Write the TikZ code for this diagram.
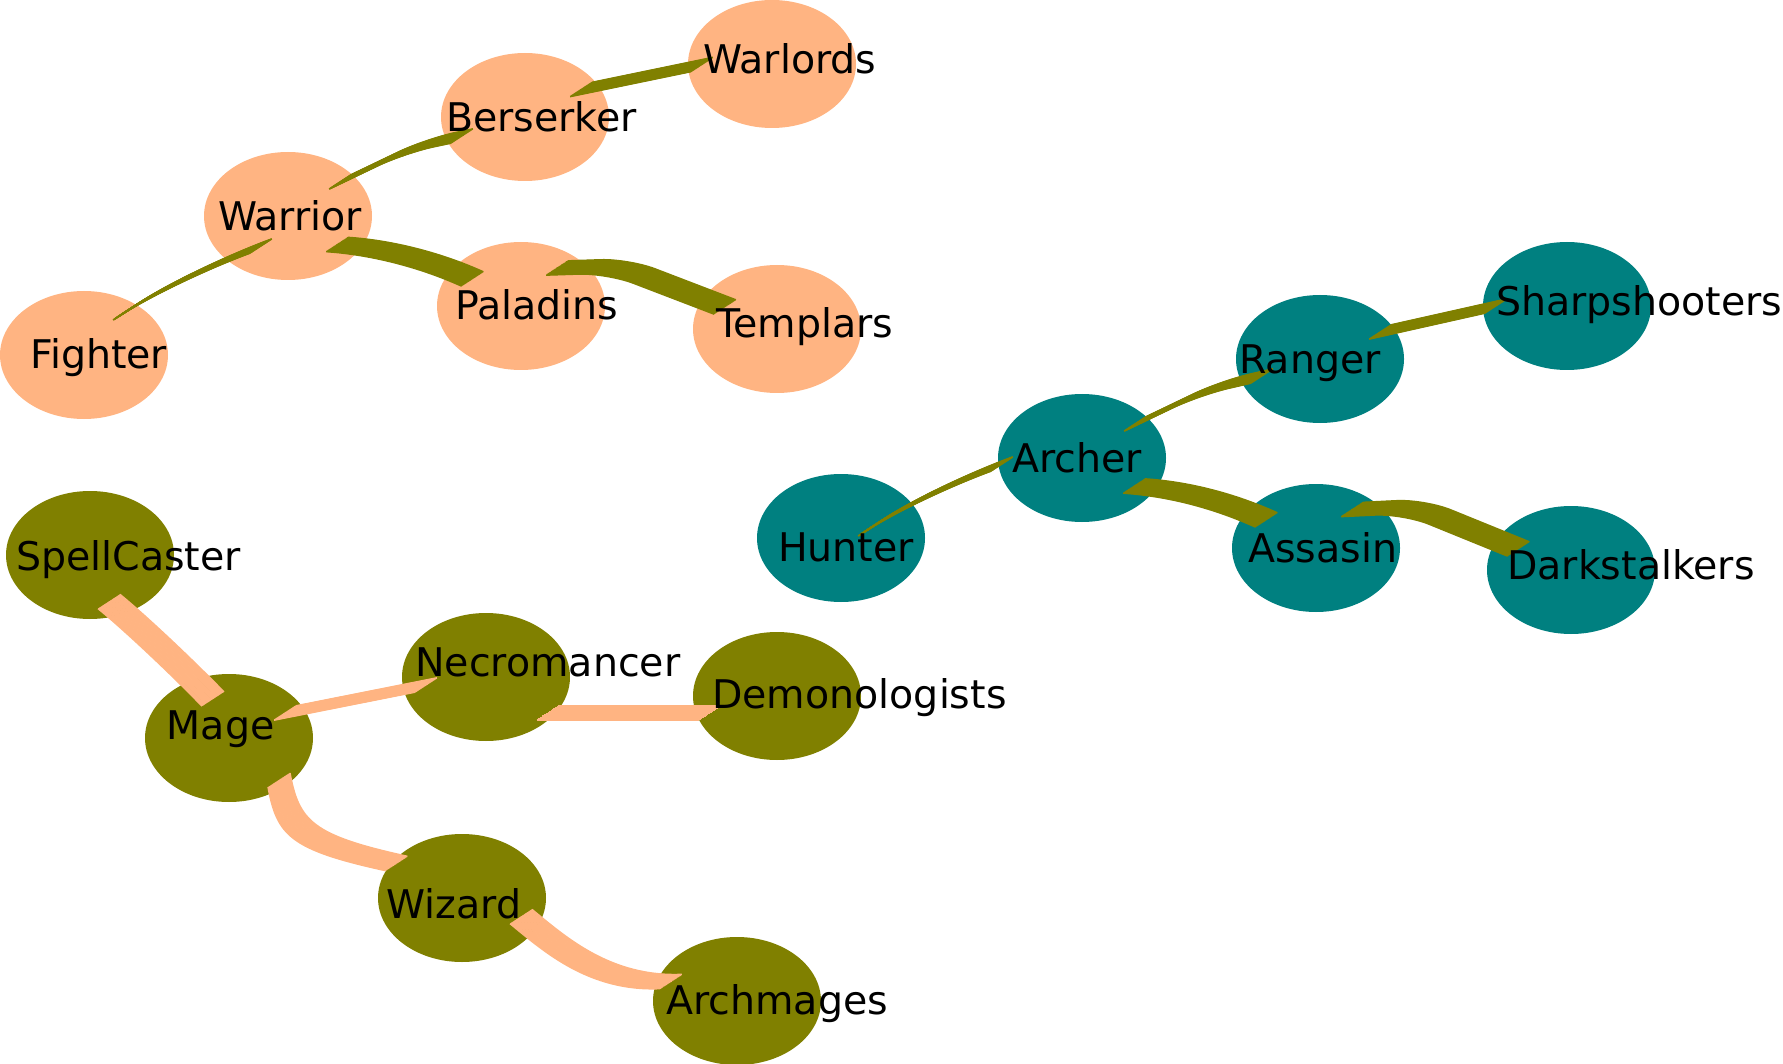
\documentclass[tikz,border=0pt]{standalone}
\usepackage{fontspec}
\setmainfont{DejaVu Sans}
\usetikzlibrary{calc,shapes.geometric}
\definecolor{peach}{HTML}{FFB482}
\definecolor{olivebody}{HTML}{808000}
\definecolor{tealbody}{HTML}{008080}
\tikzset{
  cls/.style={ellipse,fill=#1,minimum width=168pt,minimum height=128pt,inner sep=0pt},
  lbl/.style={anchor=base west,inner sep=0pt,font=\fontsize{39.5}{47}\selectfont}
}
% flat pen held at about -33 degrees: the path is drawn again and again along the pen
\newcommand{\brush}[2]{%
  \foreach \t in {-13,...,13}{%
    \path[draw,line width=1.6pt,#1,transform canvas={xshift={\t*0.839pt},yshift={\t*0.545pt}}]#2;}}

\begin{document}
\begin{tikzpicture}[x=1pt,y=-1pt]
  \useasboundingbox(0,0)rectangle(1783,1064);
  %warriors
  \node[cls=peach](warlords)at(772,64){};
  \node[cls=peach](berserker)at(525,117){};
  \node[cls=peach](warrior)at(288,216){};
  \node[cls=peach](paladins)at(521,306){};
  \node[cls=peach](templars)at(777,329){};
  \node[cls=peach](fighter)at(84,355){};
  %archers
  \node[cls=tealbody](sharpshooters)at(1567,306){};
  \node[cls=tealbody](ranger)at(1320,359){};
  \node[cls=tealbody](archer)at(1082,458){};
  \node[cls=tealbody](hunter)at(841,538){};
  \node[cls=tealbody](assasin)at(1316,548){};
  \node[cls=tealbody](darkstalkers)at(1571,570){};
  %mages
  \node[cls=olivebody](spellcaster)at(90,555){};
  \node[cls=olivebody](mage)at(229,738){};
  \node[cls=olivebody](necromancer)at(486,677){};
  \node[cls=olivebody](demonologists)at(777,696){};
  \node[cls=olivebody](wizard)at(462,898){};
  \node[cls=olivebody](archmages)at(737,1001){};

  %edge ends
  \coordinate(fw1)at($(fighter)+(40,-42)$);
  \coordinate(fw2)at($(warrior)+(-27,30)$);
  \coordinate(wb1)at($(warrior)+(52,-34)$);
  \coordinate(wb2)at($(berserker)+(-63,19)$);
  \coordinate(bw1)at($(berserker)+(56,-27.5)$);
  \coordinate(bw2)at($(warlords)+(-70,0.5)$);
  \coordinate(wp1)at($(warrior)+(49,28.5)$);
  \coordinate(wp2)at($(paladins)+(-48.5,-27)$);
  \coordinate(pt1)at($(paladins)+(36,-38)$);
  \coordinate(pt2)at($(templars)+(-52,-22)$);
  \coordinate(ha1)at($(hunter)+(28,-9)$);
  \coordinate(ha2)at($(archer)+(-80,6)$);
  \coordinate(ar1)at($(archer)+(53,-34)$);
  \coordinate(ar2)at($(ranger)+(-58,17)$);
  \coordinate(rs1)at($(ranger)+(60,-27)$);
  \coordinate(rs2)at($(sharpshooters)+(-71,0)$);
  \coordinate(aa1)at($(archer)+(52,28)$);
  \coordinate(aa2)at($(assasin)+(-49.5,-28)$);
  \coordinate(ad1)at($(assasin)+(36,-38.5)$);
  \coordinate(ad2)at($(darkstalkers)+(-52.5,-21)$);
  \coordinate(sm1)at($(spellcaster)+(19,46.5)$);
  \coordinate(sm2)at($(mage)+(-16,-39)$);
  \coordinate(mn1)at($(mage)+(56,-25)$);
  \coordinate(mn2)at($(necromancer)+(-60,8)$);
  \coordinate(nd1)at($(necromancer)+(61.5,36)$);
  \coordinate(nd2)at($(demonologists)+(-67,17)$);
  \coordinate(mw1)at($(mage)+(50,42)$);
  \coordinate(mw2)at($(wizard)+(-65.5,-34.5)$);
  \coordinate(wa1)at($(wizard)+(59,18.5)$);
  \coordinate(wa2)at($(archmages)+(-66,-19.5)$);

  %warrior edges
  \brush{olivebody}{(fw1)..controls+(32.8,-22.9)and+(-37.6,13.7)..(fw2)}
  \brush{olivebody,rounded corners=30pt}{(wb1)--++(75,-36)--(wb2)}
  \brush{olivebody}{(bw1)--(bw2)}
  \brush{olivebody}{(wp1)..controls+(45,3)and+(-42,-19)..(wp2)}
  \brush{olivebody,rounded corners=28pt}{(pt1)--++(61,-2)--(pt2)}
  %archer edges
  \brush{olivebody}{(ha1)..controls+(32.8,-22.9)and+(-37.6,13.7)..(ha2)}
  \brush{olivebody,rounded corners=30pt}{(ar1)--++(75,-36)--(ar2)}
  \brush{olivebody}{(rs1)--(rs2)}
  \brush{olivebody}{(aa1)..controls+(45,3)and+(-42,-19)..(aa2)}
  \brush{olivebody,rounded corners=28pt}{(ad1)--++(62,-3)--(ad2)}
  %mage edges
  \brush{peach}{(sm1)..controls+(21,17)and+(-38,-39)..(sm2)}
  \brush{peach}{(mn1)--(mn2)}
  \brush{peach}{(nd1)--(nd2)}
  \brush{peach}{(mw1)..controls+(9,48)and+(-96,-21)..(mw2)}
  \brush{peach}{(wa1)..controls+(34,28)and+(-71,3)..(wa2)}

  %labels
  \node[lbl](warlords-t)at(703,73.5){Warlords};
  \node[lbl](berserker-t)at(446,131.5){Berserker};
  \node[lbl](warrior-t)at(218,230.5){Warrior};
  \node[lbl](paladins-t)at(455,320){Paladins};
  \node[lbl](templars-t)at(716,337.5){Templars};
  \node[lbl](fighter-t)at(30,369){Fighter};
  \node[lbl](sharpshooters-t)at(1496,316){Sharpshooters};
  \node[lbl](ranger-t)at(1239,374){Ranger};
  \node[lbl](archer-t)at(1012,472.5){Archer};
  \node[lbl](hunter-t)at(778,561.5){Hunter};
  \node[lbl](assasin-t)at(1248,562.5){Assasin};
  \node[lbl](darkstalkers-t)at(1507,579.5){Darkstalkers};
  \node[lbl](spellcaster-t)at(16,570){SpellCaster};
  \node[lbl](mage-t)at(166.5,739){Mage};
  \node[lbl](necromancer-t)at(415,676){Necromancer};
  \node[lbl](demonologists-t)at(712,708.5){Demonologists};
  \node[lbl](wizard-t)at(386.5,918.5){Wizard};
  \node[lbl](archmages-t)at(666,1014.5){Archmages};
\end{tikzpicture}
\end{document}
